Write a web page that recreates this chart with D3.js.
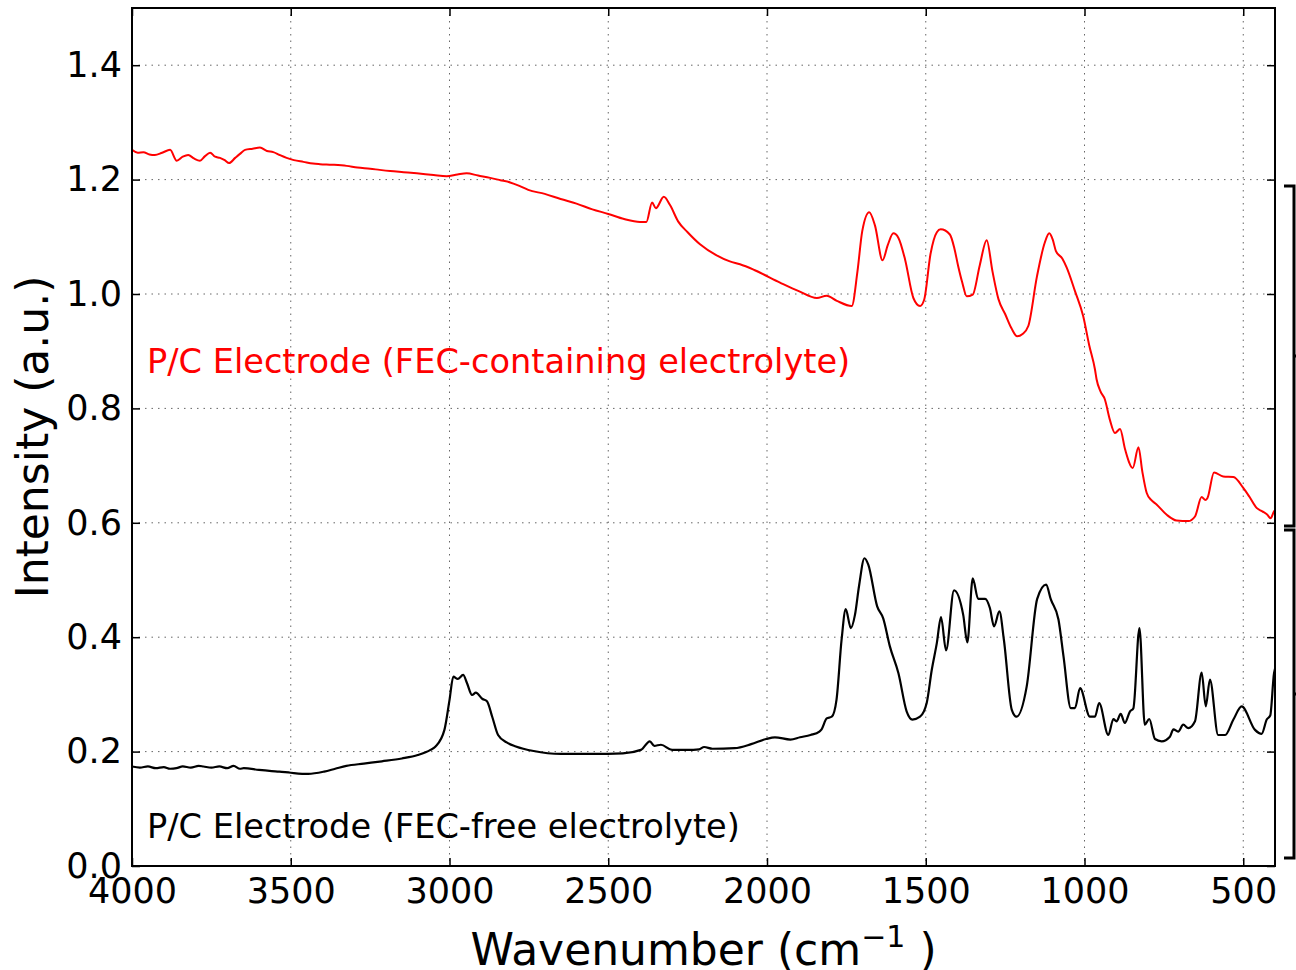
<!DOCTYPE html>
<html>
<head>
<meta charset="utf-8">
<script src="https://cdn.jsdelivr.net/npm/d3@7"></script>
<style>
  body { margin: 0; background: #fff; }
  svg { display: block; font-family: "DejaVu Sans", sans-serif; }
  .tick text { font-family: "DejaVu Sans", sans-serif; font-size: 35px; fill: #000; }
  .grid line { stroke: #666; stroke-width: 1; stroke-dasharray: 1.5,5; }
</style>
</head>
<body>
<script>
// Data
// FEC-containing electrolyte (red)
var redWn = [4000,3982,3964,3945,3928,3905,3880,3859,3840,3823,3805,3786,3770,3754,3738,3723,3708,3694,3675,3660,
  3644,3620,3597,3575,3555,3535,3513,3490,3460,3430,3408,3370,3324,3290,3250,3220,3187,3145,3103,3050,
  3009,2975,2946,2910,2872,2840,2809,2780,2752,2700,2650,2600,2550,2500,2450,2400,2380,2362,2350,2325,
  2305,2280,2250,2211,2160,2117,2085,2040,1959,1900,1843,1812,1780,1733,1715,1700,1678,1660,1636,1620,
  1602,1586,1565,1539,1518,1505,1485,1465,1453,1424,1410,1398,1385,1371,1352,1330,1308,1290,1271,1250,
  1230,1212,1195,1177,1150,1125,1111,1100,1090,1070,1056,1030,1004,985,967,962,950,936,920,904,
  888,872,848,830,818,804,790,773,741,710,673,652,631,620,613,592,563,531,500,480,
  458,440,424,414,403,400];
var redI = [1.252,1.247,1.248,1.244,1.243,1.247,1.252,1.233,1.240,1.243,1.237,1.233,1.241,1.247,1.240,1.238,1.234,1.229,1.238,1.245,
  1.252,1.254,1.256,1.250,1.248,1.243,1.238,1.234,1.231,1.228,1.227,1.226,1.224,1.221,1.219,1.217,1.215,1.213,1.211,1.208,
  1.206,1.209,1.211,1.207,1.203,1.199,1.195,1.189,1.182,1.175,1.166,1.158,1.148,1.140,1.131,1.126,1.126,1.160,1.150,1.170,
  1.155,1.127,1.108,1.087,1.068,1.057,1.052,1.042,1.020,1.005,0.993,0.997,0.988,0.979,1.040,1.110,1.143,1.120,1.059,1.085,
  1.106,1.098,1.060,0.993,0.979,0.990,1.070,1.108,1.113,1.104,1.080,1.049,1.020,0.996,0.999,1.050,1.094,1.040,0.991,0.965,
  0.940,0.926,0.930,0.944,1.030,1.090,1.106,1.095,1.075,1.062,1.046,1.005,0.961,0.910,0.868,0.851,0.830,0.816,0.780,0.757,
  0.764,0.728,0.696,0.732,0.690,0.652,0.640,0.632,0.614,0.604,0.603,0.611,0.645,0.640,0.643,0.688,0.681,0.680,0.661,0.645,
  0.626,0.620,0.614,0.608,0.620,0.622];

// FEC-free electrolyte (black)
var blackWn = [4000,3975,3950,3925,3900,3880,3860,3840,3815,3790,3775,3750,3725,3700,3680,3660,3648,3600,3560,3536,
  3500,3445,3395,3360,3325,3270,3213,3150,3100,3060,3044,3016,3000,2988,2974,2957,2945,2929,2917,2896,
  2882,2865,2847,2820,2791,2735,2650,2550,2454,2397,2369,2355,2334,2299,2250,2214,2198,2172,2102,2050,
  2003,1975,1926,1896,1863,1835,1828,1812,1796,1781,1765,1752,1736,1723,1710,1693,1681,1653,1634,1613,
  1586,1560,1542,1518,1497,1481,1465,1452,1436,1411,1382,1369,1352,1335,1313,1298,1285,1268,1254,1229,
  1214,1182,1149,1121,1106,1082,1066,1043,1030,1014,983,967,954,925,909,899,886,873,857,846,
  827,810,796,778,757,731,720,705,689,673,652,631,618,605,579,557,531,505,463,442,
  426,415,403,400];
var blackI = [0.174,0.172,0.174,0.171,0.173,0.170,0.171,0.174,0.172,0.175,0.174,0.172,0.174,0.171,0.175,0.170,0.171,0.168,0.166,0.165,
  0.163,0.161,0.165,0.170,0.175,0.179,0.183,0.188,0.194,0.203,0.209,0.238,0.290,0.331,0.327,0.334,0.320,0.299,0.303,0.292,
  0.288,0.260,0.229,0.216,0.209,0.201,0.196,0.196,0.197,0.203,0.218,0.210,0.212,0.203,0.203,0.204,0.208,0.205,0.206,0.213,
  0.222,0.225,0.221,0.225,0.229,0.235,0.239,0.258,0.261,0.291,0.396,0.449,0.416,0.439,0.490,0.538,0.527,0.454,0.433,0.384,
  0.337,0.270,0.256,0.261,0.285,0.343,0.390,0.435,0.377,0.482,0.439,0.391,0.503,0.467,0.467,0.451,0.419,0.445,0.396,0.273,
  0.261,0.314,0.467,0.492,0.466,0.431,0.366,0.276,0.276,0.311,0.261,0.261,0.285,0.229,0.257,0.253,0.266,0.250,0.270,0.276,
  0.416,0.247,0.257,0.222,0.218,0.226,0.239,0.235,0.247,0.241,0.253,0.338,0.279,0.326,0.229,0.229,0.256,0.279,0.238,0.231,
  0.256,0.263,0.337,0.345];

var xTicks = [4000,3500,3000,2500,2000,1500,1000,500];
var yTicks = [0.0,0.2,0.4,0.6,0.8,1.0,1.2,1.4];
var labels = ["P/C Electrode (FEC-containing electrolyte)", "P/C Electrode (FEC-free electrolyte)"];

function init(){
  var W = 1296, H = 970;
  var left = 132, right = 1275, top = 8, bottom = 866;

  var svg = d3.select("body").append("svg")
              .attr("width", W)
              .attr("height", H);

  // scales
  var x = d3.scaleLinear().domain([4000, 400]).range([left, right]);
  var y = d3.scaleLinear().domain([0, 1.5]).range([bottom, top]);

  // grid
  var grid = svg.append("g").attr("class", "grid");
  grid.selectAll(".gx").data(xTicks.slice(1)).enter().append("line")
      .attr("x1", d => x(d)).attr("x2", d => x(d))
      .attr("y1", top).attr("y2", bottom);
  grid.selectAll(".gy").data(yTicks.slice(1)).enter().append("line")
      .attr("x1", left).attr("x2", right)
      .attr("y1", d => y(d)).attr("y2", d => y(d));

  // axes, ticks inside like matplotlib classic
  var xBottom = svg.append("g")
      .attr("transform", "translate(0," + bottom + ")")
      .call(d3.axisBottom(x).tickValues(xTicks).tickFormat(d3.format("d")).tickSize(-8).tickPadding(12));
  var yLeft = svg.append("g")
      .attr("transform", "translate(" + left + ",0)")
      .call(d3.axisLeft(y).tickValues(yTicks).tickFormat(d3.format(".1f")).tickSize(-8).tickPadding(10));
  var xTop = svg.append("g")
      .attr("transform", "translate(0," + top + ")")
      .call(d3.axisTop(x).tickValues(xTicks).tickFormat("").tickSize(-8));
  var yRight = svg.append("g")
      .attr("transform", "translate(" + right + ",0)")
      .call(d3.axisRight(y).tickValues(yTicks).tickFormat("").tickSize(-8));

  [xBottom, yLeft, xTop, yRight].forEach(function(g){
    g.select(".domain").remove();
    g.selectAll(".tick line").attr("stroke", "#000").attr("stroke-width", 1.5);
  });

  // curves
  svg.append("clipPath").attr("id", "plotClip")
     .append("rect").attr("x", left).attr("y", top)
     .attr("width", right - left).attr("height", bottom - top);

  var line = d3.line()
               .x(d => x(d[0]))
               .y(d => y(d[1]))
               .curve(d3.curveMonotoneX);

  var redData = redWn.map((w, i) => [w, redI[i]]);
  var blackData = blackWn.map((w, i) => [w, blackI[i]]);

  svg.append("path").datum(redData)
     .attr("clip-path", "url(#plotClip)")
     .attr("fill", "none").attr("stroke", "#ff0000").attr("stroke-width", 2)
     .attr("d", line);
  svg.append("path").datum(blackData)
     .attr("clip-path", "url(#plotClip)")
     .attr("fill", "none").attr("stroke", "#000").attr("stroke-width", 2.2)
     .attr("d", line);

  // frame
  svg.append("rect")
     .attr("x", left).attr("y", top)
     .attr("width", right - left).attr("height", bottom - top)
     .attr("fill", "none").attr("stroke", "#000").attr("stroke-width", 2);

  // series labels
  svg.append("text").attr("x", 147).attr("y", 373)
     .attr("font-size", 33.6).attr("fill", "#ff0000").text(labels[0]);
  svg.append("text").attr("x", 147).attr("y", 838)
     .attr("font-size", 33.6).attr("fill", "#000").text(labels[1]);

  // axis titles
  var xt = svg.append("text")
      .attr("x", (left + right) / 2).attr("y", 965)
      .attr("text-anchor", "middle").attr("font-size", 44);
  xt.append("tspan").text("Wavenumber (cm");
  xt.append("tspan").attr("font-size", 30).attr("dy", -18).text("\u22121");
  xt.append("tspan").attr("dy", 18).text(" )");

  svg.append("text")
     .attr("transform", "translate(48," + (top + bottom) / 2 + ") rotate(-90)")
     .attr("text-anchor", "middle").attr("font-size", 44)
     .text("Intensity (a.u.)");

  // brackets on the right
  bracket(svg, 186, 526);
  bracket(svg, 530, 858);
}

function bracket(svg, y0, y1){
  var xa = 1284, xb = 1294;
  var mid = (y0 + y1) / 2;
  svg.append("path")
     .attr("d", "M" + xa + "," + y0 + "H" + xb + "V" + y1 + "H" + xa
              + "M" + xb + "," + mid + "H" + 1300)
     .attr("fill", "none").attr("stroke", "#000").attr("stroke-width", 3);
}

init();
</script>
</body>
</html>
